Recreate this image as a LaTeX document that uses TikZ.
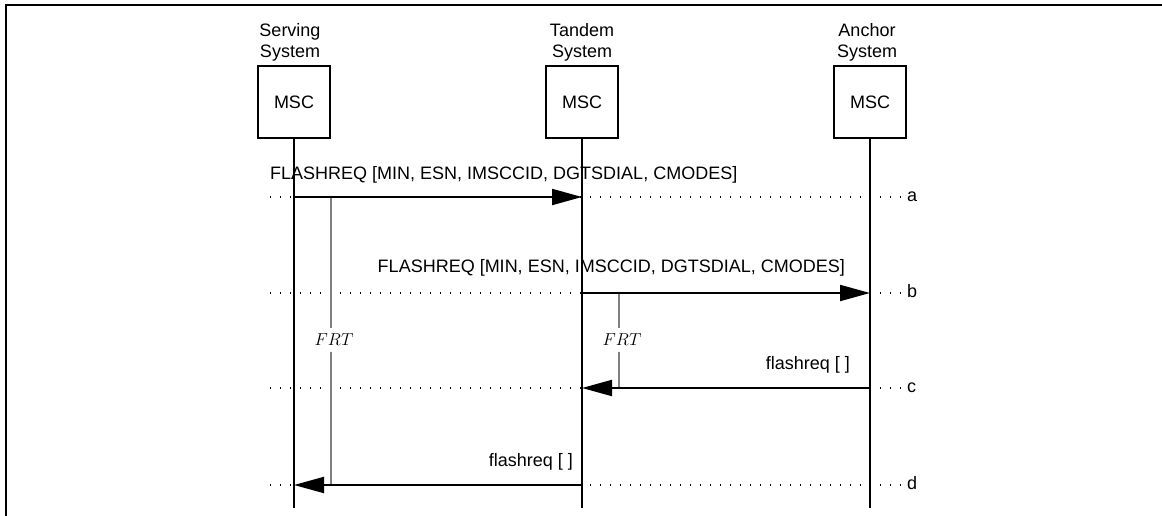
\documentclass[tikz,border=0pt]{standalone}
\usepackage{fontspec}
\setmainfont{Liberation Sans}
\usetikzlibrary{arrows.meta}
\begin{document}
\begin{tikzpicture}[x=1pt,y=-1pt,
  lbl/.style={font=\fontsize{18}{21}\selectfont, inner sep=0pt},
  msc/.style={draw, line width=1.5pt, minimum width=72pt, minimum height=72pt, inner sep=0pt, font=\fontsize{18}{21}\selectfont},
  life/.style={line width=2pt},
  msg/.style={line width=2pt, -{Triangle[length=30pt,width=16pt]}},
  guide/.style={line width=1.2pt, dash pattern=on 1pt off 9pt},
  timer/.style={line width=2pt, draw=black!50},
  tlbl/.style={font=\fontsize{16}{19}\selectfont, inner xsep=0pt, inner ysep=6pt},
]
\useasboundingbox (0,0) rectangle (1162,516);
% frame
\coordinate (F0) at (5.5,516);
\coordinate (F1) at (5.5,5.5);
\coordinate (F2) at (1162,5.5);
\draw[line width=2pt] (F0) -- (F1) -- (F2);

% boxes and headers
\node[msc] (S) at (294,102) {MSC};
\node[msc] (T) at (582,102) {MSC};
\node[msc] (A) at (870,102) {MSC};
\node[lbl, align=center, anchor=south] (Sh) at (290,61) {Serving\\System};
\node[lbl, align=center, anchor=south] (Th) at (582,61) {Tandem\\System};
\node[lbl, align=center, anchor=south] (Ah) at (867,61) {Anchor\\System};

% lifeline ends
\coordinate (Se) at (294,508);
\coordinate (Te) at (582,508);
\coordinate (Ae) at (870,508);

% message points
\coordinate (Sa) at (294,197); \coordinate (Ta) at (582,197);
\coordinate (Tb) at (582,293); \coordinate (Ab) at (870,293);
\coordinate (Ac) at (870,388); \coordinate (Tc) at (582,388);
\coordinate (Td) at (582,485); \coordinate (Sd) at (294,485);

% guides
\foreach \n/\y in {a/197,b/293,c/388,d/485}{
  \coordinate (L\n) at (270,\y);
  \coordinate (R\n) at (902,\y);
  \draw[guide] (L\n) -- (R\n);
  \node[lbl, anchor=base west] (k\n) at (907,\y+4.5) {\n};
}

% timers
\node[tlbl] (frt1) at (334,340) {$FRT$};
\coordinate (t1a) at (331,197); \coordinate (t1b) at (331,485);
\draw[timer] (t1a) -- (t1a |- frt1.north);
\draw[timer] (t1b |- frt1.south) -- (t1b);
\node[tlbl] (frt2) at (622,340) {$FRT$};
\coordinate (t2a) at (619,293); \coordinate (t2b) at (619,388);
\draw[timer] (t2a) -- (t2a |- frt2.north);
\draw[timer] (t2b |- frt2.south) -- (t2b);

% lifelines
\draw[life] (S.south) -- (Se);
\draw[life] (T.south) -- (Te);
\draw[life] (A.south) -- (Ae);

% messages
\draw[msg] (Sa) -- (Ta);
\node[lbl, anchor=base west] (ma) at (270,179) {FLASHREQ [MIN, ESN, IMSCCID, DGTSDIAL, CMODES]};
\draw[msg] (Tb) -- (Ab);
\node[lbl, anchor=base east] (mb) at (845,272) {FLASHREQ [MIN, ESN, IMSCCID, DGTSDIAL, CMODES]};
\draw[msg] (Ac) -- (Tc);
\node[lbl, anchor=base east] (mc) at (850,369) {flashreq [ ]};
\draw[msg] (Td) -- (Sd);
\node[lbl, anchor=base east] (md) at (573,466) {flashreq [ ]};
\end{tikzpicture}
\end{document}
